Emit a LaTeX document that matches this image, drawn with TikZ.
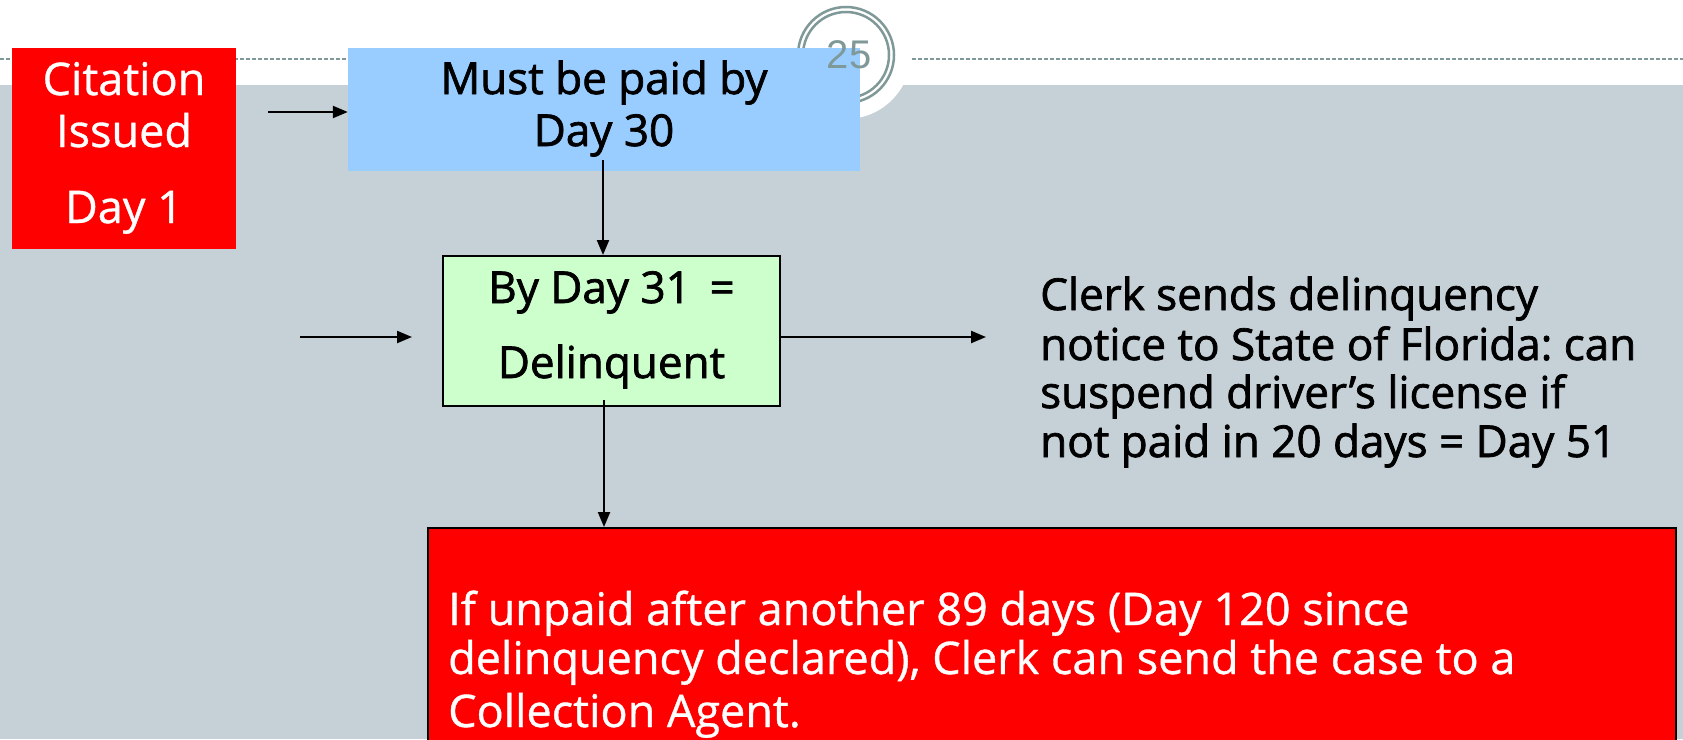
\documentclass[tikz,border=0pt]{standalone}
\usepackage{fontspec}
\setmainfont{Open Sans}
\newfontfamily\medfont[FakeBold=1.6]{Open Sans}
\newfontfamily\lmedfont[FakeBold=0.8]{Open Sans}
\newfontfamily\numfont{Liberation Sans}
\usetikzlibrary{arrows.meta}
\definecolor{bggray}{RGB}{197,208,215}
\definecolor{ringgray}{RGB}{127,153,152}
\definecolor{boxblue}{RGB}{153,204,255}
\definecolor{boxgreen}{RGB}{204,255,204}
\definecolor{boxred}{RGB}{255,0,0}
\newcommand\fsz[1]{\fontsize{#1}{#1}\selectfont}
\frenchspacing
\begin{document}
\begin{tikzpicture}[x=1pt,y=-1pt,
  redbox/.style={fill=boxred, draw=none, inner sep=0pt},
  redframe/.style={fill=boxred, draw=black, line width=2pt, inner sep=0pt},
  bluebox/.style={fill=boxblue, draw=none, inner sep=0pt},
  greenbox/.style={fill=boxgreen, draw=black, line width=2pt, inner sep=0pt},
  wtxt/.style={text=white, inner sep=0pt, anchor=base},
  btxt/.style={text=black, inner sep=0pt, anchor=base},
  wltxt/.style={text=white, inner sep=0pt, anchor=base west},
  bltxt/.style={text=black, inner sep=0pt, anchor=base west},
  arr/.style={line width=2.2pt, -{Triangle[length=15pt,width=12pt]}},
  ring/.style={draw=ringgray, line width=2.5pt}]
\path[use as bounding box] (0,0) rectangle (1683,739);
\begin{scope}
\clip (0,0) rectangle (1683,739);
% background
\fill[white] (0,0) rectangle (1683,85);
\fill[bggray] (0,85) rectangle (1683,739);
\draw[ringgray, line width=1.5pt, dash pattern=on 4pt off 2pt] (0,59) -- (1683,59);
% page number badge
\fill[white] (846,54) circle (65pt);
\draw[ring] (846,55) circle (48pt);
\draw[ring] (846,55) circle (43pt);
% citation box
\node[redbox, minimum width=224pt, minimum height=201pt] (cit) at (124,148.5) {};
\node[wtxt, font=\lmedfont\fsz{45}] (citA) at (124,95) {Citation};
\node[wtxt, font=\lmedfont\fsz{45}] (citB) at (124,147) {Issued};
\node[wtxt, font=\lmedfont\fsz{45}] (citC) at (124,223) {Day 1};
% pay box
\node[bluebox, minimum width=512pt, minimum height=123pt] (pay) at (604,109.5) {};
\node[btxt, font=\medfont\fsz{44}] (payA) at (604,94) {Must be paid by};
\node[btxt, font=\medfont\fsz{44}] (payB) at (604,146) {Day 30};
\node[text=ringgray, inner sep=0pt, font=\numfont\fsz{40}] (pgnum) at (849,55) {25};
% delinquent box
\node[greenbox, minimum width=337pt, minimum height=150pt] (delq) at (611.5,331) {};
\node[btxt, font=\medfont\fsz{44}] (delqA) at (611.5,303) {By Day 31 \,=};
\node[btxt, font=\medfont\fsz{44}] (delqB) at (611.5,378) {Delinquent};
% notice text
\node[bltxt, font=\medfont\fsz{44}] (noteA) at (1040,310) {Clerk sends delinquency};
\node[bltxt, font=\medfont\fsz{44}] (noteB) at (1040,360) {notice to State of Florida: can};
\node[bltxt, font=\medfont\fsz{44}] (noteC) at (1040,408) {suspend driver’s license if};
\node[bltxt, font=\medfont\fsz{44}] (noteD) at (1040,457) {not paid in 20 days = Day 51};
% collection box
\node[redframe, minimum width=1248pt, minimum height=232pt] (coll) at (1052,644) {};
\node[wltxt, font=\lmedfont\fsz{45}] (collA) at (448,625) {If unpaid after another 89 days (Day 120 since};
\node[wltxt, font=\lmedfont\fsz{45}] (collB) at (448,674) {delinquency declared), Clerk can send the case to a};
\node[wltxt, font=\lmedfont\fsz{45}] (collC) at (448,727) {Collection Agent.};
% connectors
\coordinate (citOut) at (268,112);
\draw[arr] (citOut) -- (pay.west |- citOut);
\coordinate (payOut) at (603,160);
\draw[arr] (payOut) -- (payOut |- delq.north);
\coordinate (inA) at (300,337);
\coordinate (inB) at (412,337);
\draw[arr] (inA) -- (inB);
\coordinate (noteIn) at (986,337);
\draw[arr] (delq.east |- noteIn) -- (noteIn);
\coordinate (delqOut) at (604,400);
\draw[arr] (delqOut) -- (delqOut |- coll.north);
\end{scope}
\end{tikzpicture}
\end{document}
